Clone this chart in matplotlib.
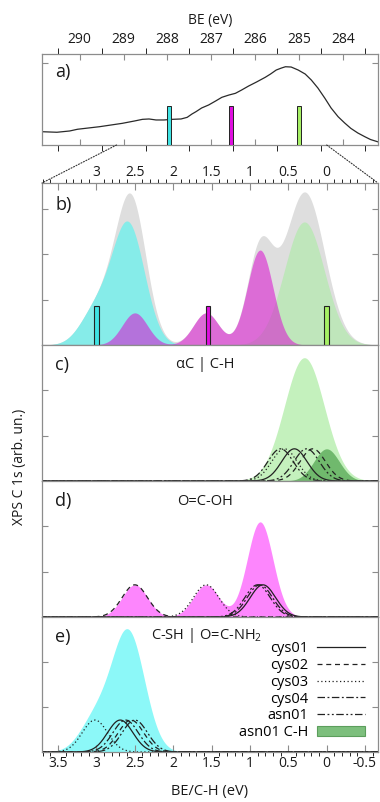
import numpy as np
import matplotlib
matplotlib.use('Agg')
import matplotlib.pyplot as plt
from matplotlib.patches import ConnectionPatch, Patch
from matplotlib.lines import Line2D
from matplotlib.ticker import MultipleLocator, FixedLocator

plt.rcParams['font.family'] = ['Open Sans', 'DejaVu Sans']
plt.rcParams['mathtext.fontset'] = 'custom'
plt.rcParams['mathtext.rm'] = 'Open Sans'
plt.rcParams['mathtext.default'] = 'regular'
plt.rcParams['axes.unicode_minus'] = False

# ---------------- data ----------------
# panel a: experimental spectrum (BE in eV, intensity arb.)
be_exp = [290.86, 290.52, 290.23, 290.05, 289.55, 289.03, 288.75, 288.57, 288.42, 288.26,
          288.08, 287.89, 287.69, 287.55, 287.44, 287.35, 287.22, 287.06, 286.90, 286.76,
          286.60, 286.45, 286.31, 286.15, 285.97, 285.77, 285.65, 285.52, 285.40, 285.31,
          285.18, 285.02, 284.86, 284.72, 284.57, 284.41, 284.27, 284.11, 283.96, 283.82,
          283.66, 283.50, 283.37, 283.21]
int_exp = [0.146, 0.140, 0.154, 0.173, 0.201, 0.238, 0.264, 0.282, 0.286, 0.275,
           0.275, 0.282, 0.286, 0.304, 0.341, 0.366, 0.407, 0.440, 0.484, 0.524,
           0.549, 0.568, 0.604, 0.648, 0.692, 0.744, 0.780, 0.824, 0.846, 0.860,
           0.857, 0.824, 0.780, 0.714, 0.626, 0.513, 0.407, 0.311, 0.242, 0.183,
           0.132, 0.091, 0.060, 0.036]
bar_be = [287.97, 286.55, 285.0]
bar_rel = [3.0, 1.55, 0.0]
bar_height_a = 0.43
bar_height_b = 0.87
bar_colors = ['#3fe3e3', '#e010e0', '#a6f064']

molecules = ['cys01', 'cys02', 'cys03', 'cys04', 'asn01']
alphaC_centers = [0.42, 0.18, 0.55, 0.60, 0.26]
cooh_centers = [0.83, 2.50, 1.57, 0.87, 0.90]
csh_centers = [2.69, 2.55, 3.02, 2.62, 2.50]
peak_height = 0.71
peak_sigma = 0.165
asn_ch_center = 0.0
asn_ch_height = 0.71
asn_ch_sigma = 0.165
# envelope fills
alphaC_fill = (0.29, 2.72, 0.26)      # center, height, sigma
csh_fill_sigma = 0.2
gray_extra = (0.27, 0.66, 0.25)

top_ticks_a = [290, 289, 288, 287, 286, 285, 284]
rel_ticks = [3.5, 3.0, 2.5, 2.0, 1.5, 1.0, 0.5, 0.0, -0.5]
rel_labels = ['3.5', '3', '2.5', '2', '1.5', '1', '0.5', '0', '-0.5']

styles = ['-', (0, (4, 3)), (0, (1, 2)), (0, (6, 2, 1.5, 2)), (0, (6, 2, 1.5, 2, 1.5, 2))]

def gauss(x, c, h, s):
    return h * np.exp(-(x - c) ** 2 / (2 * s ** 2))

x = np.linspace(-0.75, 3.8, 1200)
alpha_curves = [gauss(x, c, peak_height, peak_sigma) for c in alphaC_centers]
cooh_curves = [gauss(x, c, peak_height, peak_sigma) for c in cooh_centers]
csh_curves = [gauss(x, c, peak_height, peak_sigma) for c in csh_centers]
ch_curve = gauss(x, asn_ch_center, asn_ch_height, asn_ch_sigma)
green_fill = gauss(x, *alphaC_fill)
magenta_fill = np.sum(cooh_curves, axis=0)
cyan_fill = np.sum([gauss(x, c, peak_height, csh_fill_sigma) for c in csh_centers], axis=0)
gray_fill = green_fill + magenta_fill + cyan_fill + gauss(x, *gray_extra)

# ---------------- layout ----------------
W, H = 380, 802
fig = plt.figure(figsize=(W / 100, H / 100), dpi=100)
L = 42 / W
AW = (378 - 42) / W

def axes_px(top, bot):
    return fig.add_axes([L, 1 - bot / H, AW, (bot - top) / H])

axA = axes_px(54, 145)
axB = axes_px(183, 345)
axC = axes_px(345, 481)
axD = axes_px(481, 617)
axE = axes_px(617, 752)

spine_col = '#8c8c8c'
txt_col = '#1a1a1a'
line_col = '#222222'
xlim = (3.71, -0.67)

for ax in [axA, axB, axC, axD, axE]:
    for s in ax.spines.values():
        s.set_color(spine_col)
        s.set_linewidth(0.9)
    ax.tick_params(direction='in', color=spine_col, labelcolor=txt_col, labelsize=10,
                   width=0.8)

# panel a
axA.plot(be_exp, int_exp, color='#2a2a2a', lw=0.9)
for b, c in zip(bar_be, bar_colors):
    axA.bar(b, bar_height_a, width=0.1, color=c, edgecolor='#222222', linewidth=0.7, zorder=3)
axA.set_xlim(290.86, 283.2)
axA.set_ylim(0, 1)
axA.xaxis.set_major_locator(FixedLocator(top_ticks_a))
axA.xaxis.set_minor_locator(MultipleLocator(0.5))
axA.tick_params(axis='x', which='both', top=True, bottom=True, labeltop=True,
                labelbottom=False, length=4, pad=5)
axA.set_yticks([0.9])
axA.set_yticklabels([])
axA.tick_params(axis='y', left=True, right=True, length=4)
axA.xaxis.set_label_position('top')
axA.set_xlabel('BE (eV)', fontsize=10, color=txt_col, labelpad=6)
axA.text(0.04, 0.8, 'a)', transform=axA.transAxes, fontsize=13, va='center', color=txt_col)

# panel b
axB.fill_between(x, gray_fill, color='#dedede', lw=0)
axB.fill_between(x, cyan_fill, color='#86ece9', lw=0)
axB.fill_between(x, green_fill, color='#bfe6bb', lw=0)
axB.fill_between(x, magenta_fill, color=(0.86, 0.06, 0.82, 0.55), lw=0)
for b, c in zip(bar_rel, bar_colors):
    axB.bar(b, bar_height_b, width=0.055, color=c, edgecolor='#222222', linewidth=0.8, zorder=3)
axB.set_ylim(0, 3.58)
axB.set_yticks([1, 2, 3])
axB.text(0.04, 0.865, 'b)', transform=axB.transAxes, fontsize=13, va='center', color=txt_col)

# panel c
axC.fill_between(x, green_fill, color='#c4f1bd', lw=0)
axC.fill_between(x, ch_curve, color=(0.22, 0.58, 0.22, 0.6), lw=0)
for cv, ls in zip(alpha_curves, styles):
    axC.plot(x, cv, color=line_col, lw=0.9, linestyle=ls)
axC.text(0.04, 0.855, 'c)', transform=axC.transAxes, fontsize=13, va='center', color=txt_col)
axC.text(0.485, 0.855, 'αC | C-H', transform=axC.transAxes, fontsize=10.5, va='center',
         ha='center', color=txt_col)

# panel d
axD.fill_between(x, magenta_fill, color='#fd86fd', lw=0)
for cv, ls in zip(cooh_curves, styles):
    axD.plot(x, cv, color=line_col, lw=0.9, linestyle=ls)
axD.text(0.04, 0.85, 'd)', transform=axD.transAxes, fontsize=13, va='center', color=txt_col)
axD.text(0.485, 0.85, 'O=C-OH', transform=axD.transAxes, fontsize=10.5, va='center',
         ha='center', color=txt_col)

# panel e
axE.fill_between(x, cyan_fill, color='#8cf8f8', lw=0)
for cv, ls in zip(csh_curves, styles):
    axE.plot(x, cv, color=line_col, lw=0.9, linestyle=ls)
axE.text(0.04, 0.855, 'e)', transform=axE.transAxes, fontsize=13, va='center', color=txt_col)
axE.text(0.49, 0.865, 'C-SH | O=C-NH$_2$', transform=axE.transAxes, fontsize=10.5,
         va='center', ha='center', color=txt_col)

handles = [Line2D([], [], color=line_col, lw=0.9, linestyle=ls) for ls in styles]
handles.append(Patch(facecolor='#7dbf7d', edgecolor='#5c9e5c', linewidth=0.8))
labels = molecules + ['asn01 C-H']
axE.legend(handles, labels, loc='upper right', bbox_to_anchor=(0.962, 0.82), frameon=False,
           markerfirst=False, fontsize=10.5, handlelength=3.3, handletextpad=0.6,
           labelspacing=0.12, borderpad=0, borderaxespad=0)

for ax in [axB, axC, axD, axE]:
    ax.set_xlim(*xlim)
    ax.set_yticklabels([])
    ax.tick_params(axis='y', left=True, right=True, length=4)
    ax.xaxis.set_major_locator(FixedLocator(rel_ticks))
    ax.xaxis.set_minor_locator(MultipleLocator(0.1))
    ax.tick_params(axis='x', which='both', top=False, bottom=False,
                   labeltop=False, labelbottom=False)
for ax in [axC, axD, axE]:
    ax.set_ylim(0, 3.0)
    ax.set_yticks([1, 2])
    ax.set_yticklabels([])

axB.tick_params(axis='x', which='both', top=True, labeltop=True, pad=2)
axB.tick_params(axis='x', which='major', length=5)
axB.tick_params(axis='x', which='minor', length=3)
axB.set_xticklabels(['' if l in ('3.5', '-0.5') else l for l in rel_labels])

axE.tick_params(axis='x', which='both', bottom=True, labelbottom=True, pad=3)
axE.tick_params(axis='x', which='major', length=5)
axE.tick_params(axis='x', which='minor', length=3)
axE.set_xticklabels(rel_labels)
axE.set_xlabel('BE/C-H (eV)', fontsize=10.5, color=txt_col, labelpad=9)

fig.text(20 / W, 1 - 467 / H, 'XPS C 1s (arb. un.)', rotation=90, fontsize=10,
         ha='center', va='center', color=txt_col)

# zoom connection lines
for bea, xb in [(289.16, 0.0), (284.37, 1.0)]:
    con = ConnectionPatch(xyA=(bea, 0), coordsA=axA.transData, xyB=(xb, 1),
                          coordsB=axB.transAxes, linestyle=(0, (1, 1.5)), color='#333333',
                          lw=0.8)
    fig.add_artist(con)

fig.savefig('out.png', dpi=100)
